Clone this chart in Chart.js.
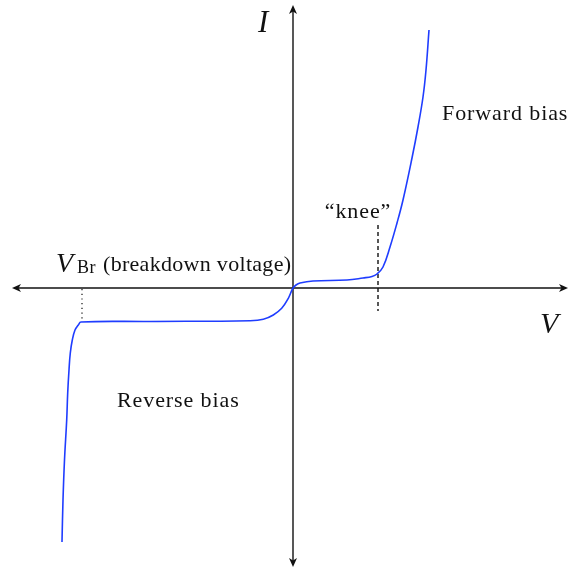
<!DOCTYPE html>
<html>
<head>
<meta charset="utf-8">
<script src="https://cdn.jsdelivr.net/npm/chart.js@4"></script>
<style>
  html, body { margin: 0; padding: 0; background: #fff; }
  #wrap { width: 569px; height: 571px; }
</style>
</head>
<body>
<div id="wrap"><canvas id="ivChart" width="569" height="571"></canvas></div>
<script>
// diode I-V characteristic, arbitrary units
const voltage = [-231, -230, -228.5, -226.3, -225.3, -224, -222.7, -220.7, -218, -214.7, -212, -143, -43, -29.7, -19.7, -11.3, -4.7, 0,
                 3, 7, 20, 54, 70, 79, 84, 90, 97, 104, 110, 119, 125, 130, 133, 136];
const current = [-254, -212, -172, -132, -105, -82, -65, -52, -42, -37, -34, -33.5, -32.7, -31.3, -27, -20.3, -10.3, 0,
                 3, 5, 7, 8, 10, 11.5, 14, 21, 41, 65, 88, 130, 161, 191, 218, 258];

const kneeV = 85;          // dashed marker at the knee
const kneeSpan = [-23, 63];
const breakdownV = -211;   // dotted marker at breakdown
const breakdownSpan = [-33, -1];

const xRange = [-293, 276];
const yRange = [-283, 288];

const points = voltage.map((v, i) => ({ x: v, y: current[i] }));

const serif = '"Liberation Serif", "DejaVu Serif", serif';

function arrowHead(ctx, x, y, angle) {
  ctx.save();
  ctx.translate(x, y);
  ctx.rotate(angle);
  ctx.beginPath();
  ctx.moveTo(0, 0);
  ctx.lineTo(-9, -4);
  ctx.lineTo(-6.5, 0);
  ctx.lineTo(-9, 4);
  ctx.closePath();
  ctx.fill();
  ctx.restore();
}

const decorations = {
  id: 'decorations',
  beforeDatasetsDraw(chart) {
    const { ctx } = chart;
    const xs = chart.scales.x, ys = chart.scales.y;
    const ox = xs.getPixelForValue(0), oy = ys.getPixelForValue(0);
    ctx.save();
    ctx.strokeStyle = '#111';
    ctx.fillStyle = '#111';
    ctx.lineWidth = 1.4;
    // horizontal axis, arrows both ends
    const left = xs.getPixelForValue(-281), right = xs.getPixelForValue(275);
    ctx.beginPath();
    ctx.moveTo(left + 4, oy); ctx.lineTo(right - 4, oy);
    ctx.stroke();
    arrowHead(ctx, right, oy, 0);
    arrowHead(ctx, left, oy, Math.PI);
    // vertical axis
    const top = ys.getPixelForValue(283), bottom = ys.getPixelForValue(-279);
    ctx.beginPath();
    ctx.moveTo(ox, top + 4); ctx.lineTo(ox, bottom - 4);
    ctx.stroke();
    arrowHead(ctx, ox, top, -Math.PI / 2);
    arrowHead(ctx, ox, bottom, Math.PI / 2);

    // knee marker
    ctx.lineWidth = 1.4;
    ctx.setLineDash([4, 3]);
    const kx = xs.getPixelForValue(kneeV);
    ctx.beginPath();
    ctx.moveTo(kx, ys.getPixelForValue(kneeSpan[1]));
    ctx.lineTo(kx, ys.getPixelForValue(kneeSpan[0]));
    ctx.stroke();
    // breakdown marker
    ctx.lineWidth = 1.2;
    ctx.setLineDash([1.2, 3.5]);
    const bx = xs.getPixelForValue(breakdownV);
    ctx.beginPath();
    ctx.moveTo(bx, ys.getPixelForValue(breakdownSpan[1]));
    ctx.lineTo(bx, ys.getPixelForValue(breakdownSpan[0]));
    ctx.stroke();
    ctx.setLineDash([]);
    ctx.restore();
  },
  afterDraw(chart) {
    const { ctx } = chart;
    ctx.save();
    ctx.fillStyle = '#111';
    ctx.textBaseline = 'alphabetic';
    ctx.textAlign = 'left';
    ctx.font = 'italic 31px ' + serif;
    ctx.fillText('I', 258, 32);
    ctx.font = 'italic 30px ' + serif;
    ctx.fillText('V', 540, 333);

    ctx.font = '22px ' + serif;
    ctx.letterSpacing = '0.9px';
    ctx.fillText('Forward bias', 442, 120);
    ctx.fillText('Reverse bias', 117, 407);
    ctx.textAlign = 'center';
    ctx.fillText('\u201Cknee\u201D', 358, 218);

    ctx.textAlign = 'left';
    ctx.letterSpacing = '0px';
    ctx.font = 'italic 28px ' + serif;
    ctx.fillText('V', 56, 272);
    ctx.font = '18px ' + serif;
    ctx.letterSpacing = '0.5px';
    ctx.fillText('Br', 77, 273);
    ctx.font = '22px ' + serif;
    ctx.letterSpacing = '0.3px';
    ctx.fillText('(breakdown voltage)', 103, 271);
    ctx.restore();
  }
};

new Chart(document.getElementById('ivChart').getContext('2d'), {
  type: 'line',
  data: {
    datasets: [{
      label: 'I(V)',
      data: points,
      borderColor: '#1f3dff',
      borderWidth: 1.6,
      tension: 0.4,
      pointRadius: 0,
      fill: false
    }]
  },
  options: {
    responsive: false,
    animation: false,
    layout: { padding: 0 },
    plugins: {
      legend: { display: false },
      tooltip: { enabled: false }
    },
    scales: {
      x: { type: 'linear', display: false, min: xRange[0], max: xRange[1] },
      y: { type: 'linear', display: false, min: yRange[0], max: yRange[1] }
    }
  },
  plugins: [decorations]
});
</script>
</body>
</html>
